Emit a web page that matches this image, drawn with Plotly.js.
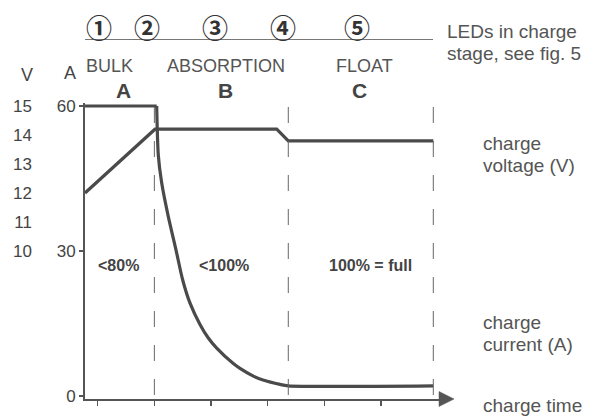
<!DOCTYPE html>
<html>
<head>
<meta charset="utf-8">
<script src="https://cdn.plot.ly/plotly-3.0.1.min.js"></script>
<style>html,body{margin:0;padding:0;background:#fff;}#chart{width:599px;height:417px;}</style>
</head>
<body>
<div id="chart"></div>
<script>
// ---- data ----
const timeTicks = [1, 2, 3, 4, 5, 6];
// bulk stage: constant current
const bulkTime = [0.776, 2.041];
const bulkAmps = [60, 60];
// absorption / float: decaying current
const decayTime = [2.041, 2.069, 2.129, 2.246, 2.382, 2.500, 2.629, 2.805, 2.952, 3.100, 3.393, 3.511, 3.746, 3.917, 4.217, 4.363, 6.922];
const decayAmps = [60, 49.9, 44.1, 37.1, 30.2, 24.0, 19.2, 14.8, 12.0, 9.9, 6.7, 5.7, 4.1, 3.3, 2.4, 2.1, 2.1];
const voltageTime = [0.776, 2.011, 4.159, 4.363, 6.922];
const voltageVolts = [12.0, 14.2, 14.2, 13.8, 13.8];
const stageBounds = [2.0, 4.363, 6.922];
const ampTicks = [0, 30, 60];
const voltTicks = [10, 11, 12, 13, 14, 15];
const stageNames = ['BULK', 'ABSORPTION', 'FLOAT'];
const stageLetters = ['A', 'B', 'C'];
const chargeStates = ['<80%', '<100%', '100% = full'];
const ledNumbers = ['①', '②', '③', '④', '⑤'];

// ---- layout helpers ----
const W = 599, H = 417;
const px = x => x / W;
const py = y => 1 - y / H;
const ink = '#444';
const gray = '#555';
const FONT = 'Liberation Sans, Arial, sans-serif';

const xRange = [0.776, 7.04];
const yRange = [-0.621, 60.62];
// voltage axis: 10 V <-> 30 A, 15 V <-> 60 A
const a2v = a => 10 + (a - 30) / 6;
const y2Range = [a2v(yRange[0]), a2v(yRange[1])];

const curLine = {color: '#4a4a4a', width: 3.2};
const traces = [
  {x: bulkTime, y: bulkAmps, type: 'scatter', mode: 'lines', line: curLine, hoverinfo: 'skip'},
  {x: decayTime, y: decayAmps, type: 'scatter', mode: 'lines',
   line: Object.assign({shape: 'spline', smoothing: 0.7}, curLine), hoverinfo: 'skip'},
  {x: voltageTime, y: voltageVolts, type: 'scatter', mode: 'lines', yaxis: 'y2',
   line: curLine, hoverinfo: 'skip'}
];

const shapes = [];
stageBounds.forEach(b => shapes.push({
  type: 'line', xref: 'x', yref: 'paper', x0: b, x1: b, y0: py(107), y1: py(399),
  line: {color: '#666', width: 1, dash: '16px,18px'}
}));
// line under LED numbers
shapes.push({type: 'line', xref: 'paper', yref: 'paper', x0: px(85), x1: px(433), y0: py(39.5), y1: py(39.5),
  line: {color: '#777', width: 1}});
// arrow head at the end of the time axis
shapes.push({type: 'path', xref: 'paper', yref: 'paper',
  path: `M ${px(439)} ${py(391.5)} L ${px(454)} ${py(399)} L ${px(439)} ${py(406.5)} Z`,
  fillcolor: gray, line: {color: gray, width: 0.5}});

const annotations = [];
function ann(text, x, y, size, opts) {
  annotations.push(Object.assign({
    text: text, x: px(x), y: py(y), xref: 'paper', yref: 'paper', showarrow: false,
    xanchor: 'center', yanchor: 'middle', font: {family: FONT, size: size, color: ink}
  }, opts || {}));
}
const ledX = [99, 146.7, 214.7, 282.7, 356.7];
ledNumbers.forEach((t, i) => ann('<b>' + t + '</b>', ledX[i], 26, 26,
  {font: {family: 'Noto Sans CJK JP, DejaVu Sans', size: 26, color: '#333'}}));
const stageX = [109, 226.3, 364.3];
stageNames.forEach((t, i) => ann(t, stageX[i], 65.5, 18, {font: {family: FONT, size: 18, color: gray}}));
const letterX = [123.7, 225, 359];
stageLetters.forEach((t, i) => ann('<b>' + t + '</b>', letterX[i], 90.5, 21));
const socX = [118, 224, 370];
chargeStates.forEach((t, i) => ann('<b>' + t.replace('<', '&lt;') + '</b>', socX[i], 265, 16));
ann('V', 27.5, 75, 18);
ann('A', 70, 73, 18);
const side = {xanchor: 'left', font: {family: FONT, size: 19, color: gray}};
ann('LEDs in charge', 445, 32, 19, side);
ann('stage, see fig. 5', 445, 54, 19, side);
ann('charge', 481, 143, 19, side);
ann('voltage (V)', 481, 165, 19, side);
ann('charge', 481, 322, 19, side);
ann('current (A)', 481, 344, 19, side);
ann('charge time', 481, 405, 19, side);

const layout = {
  width: W, height: H,
  margin: {l: 0, r: 0, t: 0, b: 0},
  paper_bgcolor: '#fff', plot_bgcolor: '#fff',
  showlegend: false,
  xaxis: {domain: [px(85), px(440)], range: xRange, showgrid: false, zeroline: false,
    showline: true, linecolor: gray, linewidth: 2,
    tickvals: timeTicks, ticks: 'outside', ticklen: 5, tickwidth: 1.5, tickcolor: gray,
    showticklabels: false, fixedrange: true},
  yaxis: {domain: [py(399), py(103)], range: yRange, showgrid: false, zeroline: false,
    showline: true, linecolor: gray, linewidth: 2,
    tickvals: ampTicks, ticks: 'outside', ticklen: 4, tickwidth: 1.5, tickcolor: gray,
    tickfont: {family: FONT, size: 17, color: ink}, fixedrange: true},
  yaxis2: {overlaying: 'y', anchor: 'free', side: 'left', position: px(32), range: y2Range,
    showgrid: false, zeroline: false, showline: false, ticks: '',
    tickvals: voltTicks, tickfont: {family: FONT, size: 17, color: ink}, fixedrange: true},
  shapes: shapes,
  annotations: annotations
};

Plotly.newPlot('chart', traces, layout, {displayModeBar: false, staticPlot: true});
</script>
</body>
</html>
